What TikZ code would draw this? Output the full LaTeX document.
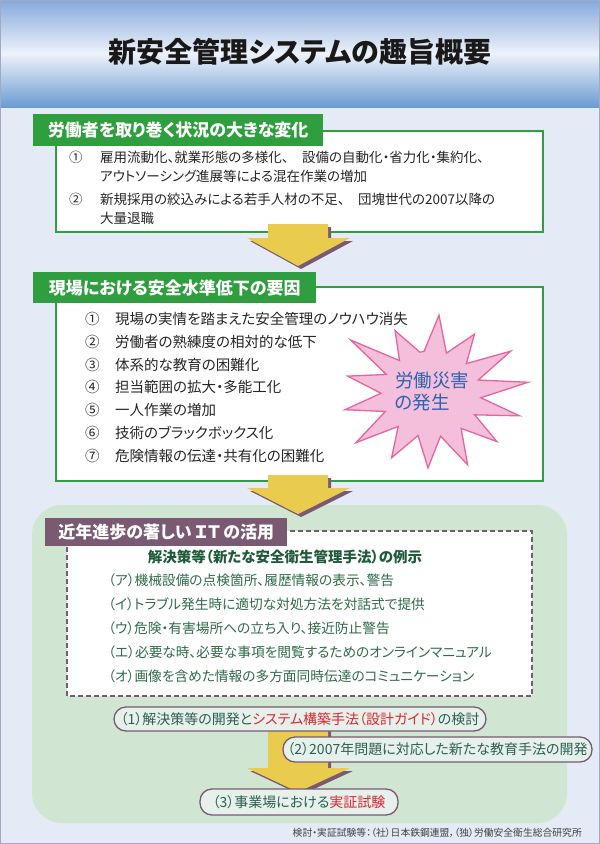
\documentclass[tikz,border=0pt]{standalone}
\usepackage{fontspec}
\setmainfont{Noto Sans CJK JP}[RawFeature=+palt]
\usepackage{tikz}
\usetikzlibrary{calc,positioning}
\definecolor{pagebg}{RGB}{228,234,246}
\definecolor{pageline}{RGB}{160,170,195}
\definecolor{headtop}{RGB}{134,169,219}
\definecolor{headlight}{RGB}{238,242,250}
\definecolor{headbottom}{RGB}{108,155,211}
\definecolor{labelgreen}{RGB}{46,158,62}
\definecolor{mauve}{RGB}{122,90,114}
\definecolor{arrowyellow}{RGB}{233,203,78}
\definecolor{panelgreen}{RGB}{208,229,210}
\definecolor{starfill}{RGB}{243,191,218}
\definecolor{starline}{RGB}{232,100,158}
\definecolor{starblue}{RGB}{43,99,176}
\definecolor{ideagreen}{RGB}{47,107,71}
\definecolor{ideahead}{RGB}{31,90,58}
\definecolor{ovalfill}{RGB}{230,241,236}
\definecolor{ovaltext}{RGB}{46,94,82}
\definecolor{keyred}{RGB}{224,36,47}
\newcommand{\fsz}[2]{\fontsize{#1}{#2}\selectfont}
% yellow block arrow with mauve shadow: top y, wing y, tip y
\newcommand{\yellowdrop}[3]{%
  \fill[mauve] (271,#1+3) -- (331,#1+3) -- (331,#2+3) -- (353,#2+3) -- (301,#3+3) -- (250,#2+3) -- (271,#2+3) -- cycle;%
  \fill[arrowyellow] (268,#1) -- (328,#1) -- (328,#2) -- (350,#2) -- (298,#3) -- (247,#2) -- (268,#2) -- cycle;%
}
\tikzset{
  greenlabel/.style={fill=labelgreen,text=white,font=\fsz{17}{20}\bfseries,inner sep=0pt,anchor=north west},
  mauvelabel/.style={fill=mauve,text=white,font=\fsz{17}{20}\bfseries,inner sep=0pt,anchor=north west},
  itemtext/.style={font=\fsz{13.5}{19},text=black!85,inner sep=0pt,anchor=north west,align=left},
  risktext/.style={font=\fsz{14.5}{17},text=black!85,inner sep=0pt,anchor=west},
  ideatext/.style={font=\fsz{13.7}{16},text=ideagreen,inner sep=0pt,anchor=west},
  ovalbox/.style={draw=mauve,line width=1.3pt,fill=ovalfill,rounded corners=12pt,text=ovaltext,font=\fsz{14}{16},inner sep=0pt},
  starburst/.style={fill=starfill,draw=starline,line width=1.3pt,line join=miter}
}

\begin{document}
\begin{tikzpicture}[x=1pt,y=-1pt]
  \useasboundingbox (0,0) rectangle (600,844);
  \fill[pagebg] (0,0) rectangle (600,844);
  \shade[top color=headtop,bottom color=headbottom,middle color=headlight] (0,0) rectangle (600,107);
  \draw[pageline,line width=1pt] (0.5,0.5) rectangle (599.5,843.5);
  \node[font=\fsz{28}{30}\bfseries,text=black!90] (title) at (300,52) {新安全管理システムの趣旨概要};

  % situation
  \draw[labelgreen,line width=1.6pt,fill=white] (56,131) rectangle (543,232);
  \node[greenlabel,minimum width=290pt,minimum height=32pt] (situation) at (33,114) {労働者を取り巻く状況の大きな変化};
  \node[itemtext] (num1a) at (69,151) {①};
  \node[itemtext] (item1a) at (100,151) {雇用流動化、就業形態の多様化、　設備の自動化・省力化・集約化、\\アウトソーシング進展等による混在作業の増加};
  \node[itemtext] (num1b) at (69,193) {②};
  \node[itemtext] (item1b) at (100,193) {新規採用の絞込みによる若手人材の不足、　団塊世代の2007以降の\\大量退職};
  \yellowdrop{224}{238}{266}

  % causes
  \fill[panelgreen,rounded corners=30pt] (32,505) rectangle (567,823);
  \draw[labelgreen,line width=1.6pt,fill=white] (56,287) rectangle (543,481);
  \node[greenlabel,minimum width=283pt,minimum height=31pt] (causes) at (33,272) {現場における安全水準低下の要因};
  \foreach \k/\num/\txt in {1/①/現場の実情を踏まえた安全管理のノウハウ消失,
      2/②/労働者の熟練度の相対的な低下,
      3/③/体系的な教育の困難化,
      4/④/担当範囲の拡大・多能工化,
      5/⑤/一人作業の増加,
      6/⑥/技術のブラックボックス化,
      7/⑦/危険情報の伝達・共有化の困難化}{
    \node[risktext] (risknum\k) at (85,{319+22.8*(\k-1)}) {\num};
    \node[risktext] (risk\k) at (115,{319+22.8*(\k-1)}) {\txt};
  }
  \begin{scope}[shift={(431,394)},yscale=0.86]
    \filldraw[starburst] (-98:50) \foreach \a/\r in {-85/92,-58/82,-32/94,-8/98,16/92,40/86,66/90,92/86,118/84,143/94,168/88,194/86,218/102,244/82}{ -- (\a:\r) -- ({\a+13}:50)} -- cycle;
  \end{scope}
  \node[font=\fsz{18.5}{22},text=starblue,align=left,inner sep=0pt] (accident) at (432,392) {労働災害\\の発生};
  \yellowdrop{475}{488}{514}

  % IT use
  \draw[mauve,line width=1.6pt,dash pattern=on 5pt off 3pt,fill=white] (67,531) rectangle (532,696);
  \node[mauvelabel,minimum width=242pt,minimum height=28pt] (itlabel) at (45,518) {近年進歩の著しい\,ＩＴ\,の活用};
  \node[font=\fsz{14.5}{16}\bfseries,text=ideahead,inner sep=0pt] (ideas) at (285,557) {解決策等（新たな安全衛生管理手法）の例示};
  \foreach \k/\txt in {1/（ア）機械設備の点検箇所、履歴情報の表示、警告,
      2/（イ）トラブル発生時に適切な対処方法を対話式で提供,
      3/（ウ）危険・有害場所への立ち入り、接近防止警告,
      4/（エ）必要な時、必要な事項を閲覧するためのオンラインマニュアル,
      5/（オ）画像を含めた情報の多方面同時伝達のコミュニケーション}{
    \node[ideatext] (idea\k) at (108,{580+24*(\k-1)}) {\txt};
  }
  \yellowdrop{725}{768}{792}
  \node[ovalbox,minimum width=372pt,minimum height=24pt] (develop) at (300,719) {（1）解決策等の開発と\textcolor{keyred}{システム構築手法（設計ガイド）}の検討};
  \node[ovalbox,minimum width=309pt,minimum height=25pt] (education) at (437.5,749.5) {（2）2007年問題に対応した新たな教育手法の開発};
  \node[ovalbox,minimum width=198pt,minimum height=26pt] (trial) at (299,802) {（3）事業場における\textcolor{keyred}{実証試験}};
  \node[anchor=east,font=\fsz{9.8}{11},text=black!75,inner sep=0pt] (credit) at (582,833) {検討・実証試験等：（社）日本鉄鋼連盟，（独）労働安全衛生総合研究所};
\end{tikzpicture}
\end{document}
